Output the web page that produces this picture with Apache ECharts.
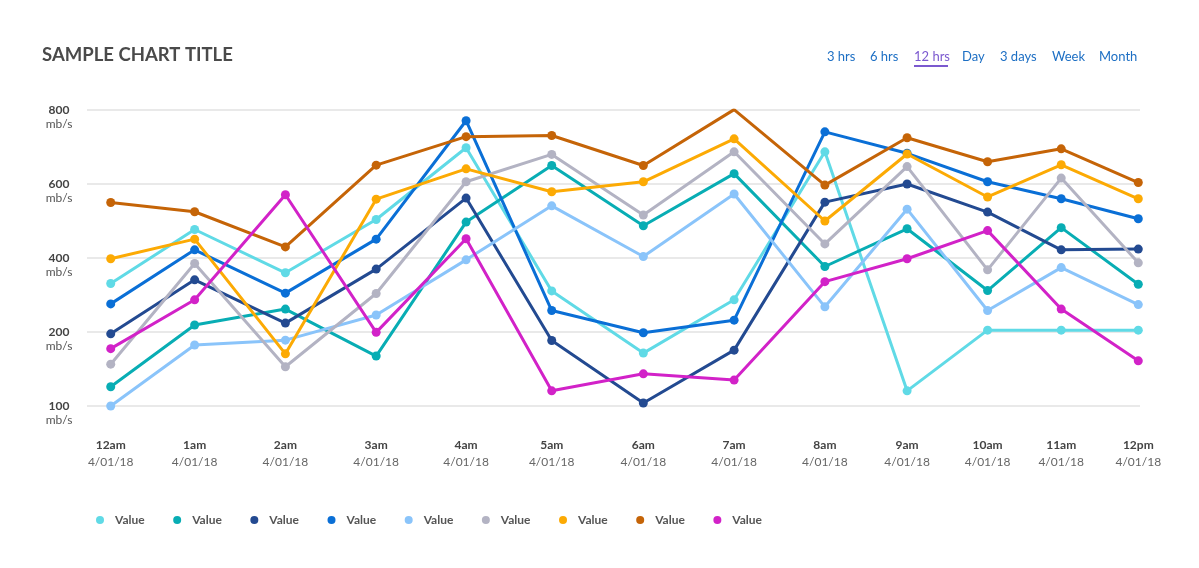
<!DOCTYPE html>
<html>
<head>
<meta charset="utf-8">
<script src="https://cdn.jsdelivr.net/npm/echarts@6/dist/echarts.min.js"></script>
<style>
  html, body { margin: 0; padding: 0; background: #ffffff; }
  #chart { width: 1199px; height: 568px; }
</style>
</head>
<body>
<div id="chart"></div>
<script>
// ---- Data ----
const hourLabels = ['12am','1am','2am','3am','4am','5am','6am','7am','8am','9am','10am','11am','12pm'];
const dateLabel = '4/01/18';
// horizontal placement (in hours from 12am) of each reading, as drawn in the reference
const timeSlots = [0, 0.98, 2.04, 3.10, 4.15, 5.15, 6.22, 7.28, 8.34, 9.30, 10.24, 11.10, 12];
// y tick values (axis units) and the labels shown for them
const yTickValues = [0, 200, 400, 600, 800];
const yTickLabels = ['100', '200', '400', '600', '800'];
const seriesNames = ['Value', 'Value', 'Value', 'Value', 'Value', 'Value', 'Value', 'Value', 'Value'];

// series values in axis units
const cyanValues      = [331, 477, 360, 504, 698, 311, 143, 287, 687, 41, 205, 205, 205];
const tealValues      = [52, 219, 262, 135, 497, 650, 487, 628, 377, 479, 312, 482, 329];
const navyValues      = [195, 341, 224, 370, 562, 177, 8, 151, 551, 600, 524, 422, 424];
const blueValues      = [276, 422, 305, 451, 771, 258, 198, 232, 741, 683, 606, 560, 506];
const lightBlueValues = [0, 165, 178, 246, 395, 541, 404, 573, 268, 532, 258, 374, 274];
const greyValues      = [113, 385, 106, 304, 606, 680, 516, 687, 438, 647, 368, 616, 387];
const yellowValues    = [398, 451, 141, 559, 641, 579, 606, 722, 500, 681, 565, 652, 560];
const brownValues     = [550, 525, 430, 651, 728, 731, 650, 801, 597, 725, 660, 695, 604];
const magentaValues   = [155, 287, 571, 199, 452, 41, 87, 70, 336, 398, 474, 262, 122];

const seriesValues = [cyanValues, tealValues, navyValues, blueValues, lightBlueValues,
                      greyValues, yellowValues, brownValues, magentaValues];
const seriesColors = ['#60dae6', '#08adb4', '#234a91', '#0a6fd6', '#8ac4fa',
                      '#b3b3c3', '#fcaa04', '#c56407', '#d222c8'];

const rangeLinks = ['3 hrs', '6 hrs', '12 hrs', 'Day', '3 days', 'Week', 'Month'];
const activeLink = '12 hrs';

// ---- Chart ----
const chart = echarts.init(document.getElementById('chart'), null, { renderer: 'canvas' });
const FONT = 'Lato, "Noto Sans", sans-serif';

const ids = seriesNames.map((n, i) => n + '#' + i);

function slotIndex(v) {
  let best = 0, bd = Infinity;
  timeSlots.forEach((t, i) => { const d = Math.abs(t - v); if (d < bd) { bd = d; best = i; } });
  return best;
}

const linkX = [827, 870, 914, 962, 1000, 1052, 1099];
const graphics = rangeLinks.map((t, i) => ({
  type: 'text',
  left: linkX[i],
  top: 50,
  style: {
    text: t,
    fill: t === activeLink ? '#7b59cf' : '#1d6fc4',
    font: '13px ' + FONT
  }
}));
const activeIdx = rangeLinks.indexOf(activeLink);
graphics.push({
  type: 'rect',
  shape: { x: linkX[activeIdx], y: 65, width: 34, height: 2 },
  style: { fill: '#7b59cf' }
});

const option = {
  backgroundColor: '#ffffff',
  animation: false,
  title: {
    text: 'SAMPLE CHART TITLE',
    left: 37,
    top: 41,
    textStyle: { fontFamily: FONT, fontSize: 18.5, fontWeight: 'bold', color: '#4a4a4a' }
  },
  graphic: graphics,
  legend: {
    left: 91,
    top: 509,
    icon: 'circle',
    itemWidth: 20,
    itemHeight: 8,
    itemGap: 28.5,
    data: ids,
    formatter: (name) => seriesNames[ids.indexOf(name)],
    textStyle: { fontFamily: FONT, fontSize: 12, fontWeight: 'bold', color: '#555555' }
  },
  grid: { left: 87, right: 59, top: 110, bottom: 162, containLabel: false },
  xAxis: {
    type: 'value',
    min: -0.277,
    max: 12.02,
    axisLine: { show: false },
    axisTick: { show: false },
    splitLine: { show: false },
    axisLabel: {
      customValues: timeSlots,
      margin: 31,
      formatter: (v) => '{a|' + hourLabels[slotIndex(v)] + '}\n{b|' + dateLabel + '}',
      rich: {
        a: { fontFamily: FONT, fontSize: 12, fontWeight: 'bold', color: '#444444', lineHeight: 17 },
        b: { fontFamily: FONT, fontSize: 12, color: '#666666', lineHeight: 17 }
      }
    }
  },
  yAxis: {
    type: 'value',
    min: 0,
    max: 800,
    interval: 200,
    axisLine: { show: false },
    axisTick: { show: false },
    splitLine: { lineStyle: { color: '#e9e9e9', width: 2 } },
    axisLabel: {
      margin: 28,
      align: 'center',
      verticalAlign: 'middle',
      lineHeight: 13,
      formatter: (v) => {
        const i = yTickValues.indexOf(v);
        return '\n{a|' + (i >= 0 ? yTickLabels[i] : v) + '}\n{b|mb/s}';
      },
      rich: {
        a: { fontFamily: FONT, fontSize: 12, fontWeight: 'bold', color: '#444444', lineHeight: 15 },
        b: { fontFamily: FONT, fontSize: 12, color: '#555555', lineHeight: 13 }
      }
    }
  },
  series: seriesValues.map((vals, i) => ({
    id: ids[i],
    name: ids[i],
    type: 'line',
    data: vals.map((v, j) => [timeSlots[j], v]),
    symbol: 'circle',
    symbolSize: 9,
    color: seriesColors[i],
    lineStyle: { width: 3, color: seriesColors[i] },
    itemStyle: { color: seriesColors[i] },
    z: 2 + i
  }))
};

chart.setOption(option);
</script>
</body>
</html>
